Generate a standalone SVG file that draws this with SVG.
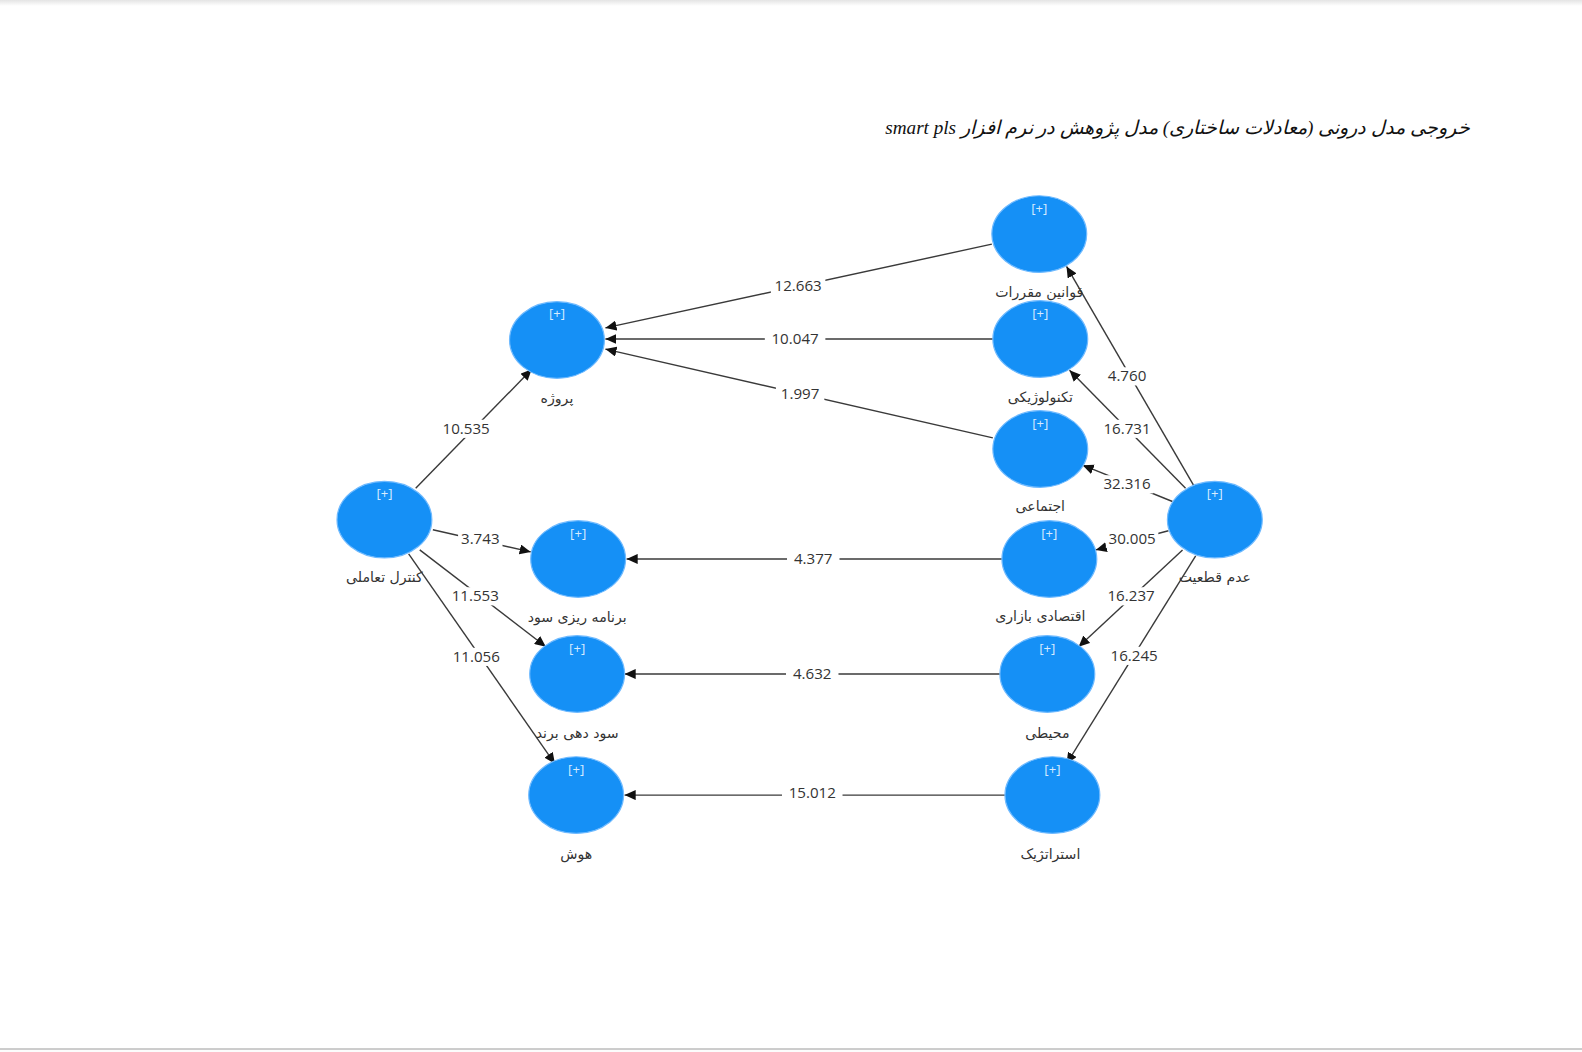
<svg xmlns="http://www.w3.org/2000/svg" width="1582" height="1052" viewBox="0 0 1582 1052">
<defs>
<linearGradient id="topshade" x1="0" y1="0" x2="0" y2="1">
<stop offset="0" stop-color="#e4e4e4"/>
<stop offset="1" stop-color="#ffffff"/>
</linearGradient>
<marker id="arr" markerUnits="userSpaceOnUse" markerWidth="12" markerHeight="10" refX="11" refY="5" orient="auto">
<path d="M0,0 L11,5 L0,10 z" fill="#111"/>
</marker>
<style>
.node ellipse{fill:#1590f6;stroke:#6fbaff;stroke-width:1.2}
.plus{font-family:"Open Sans","DejaVu Sans",sans-serif;font-size:13px;fill:#d8ecff;text-anchor:middle}
.nl{font-family:"DejaVu Sans",sans-serif;font-size:14px;fill:#333;text-anchor:middle}
.edge line{stroke:#3a3a3a;stroke-width:1.4;marker-end:url(#arr)}
.el rect{fill:#ffffff}
.el text{font-family:"Open Sans","DejaVu Sans",sans-serif;font-size:15px;fill:#333;text-anchor:middle}
.title{font-family:"Liberation Serif","DejaVu Serif",serif;font-style:italic;font-size:19px;fill:#111;text-anchor:middle}
</style>
</defs>
<rect x="0" y="0" width="1582" height="1052" fill="#ffffff"/>
<rect x="0" y="0" width="1582" height="6" fill="url(#topshade)"/>
<rect x="0" y="1049" width="1582" height="3" fill="#fcfcfc"/>
<line x1="0" y1="1049" x2="1582" y2="1049" stroke="#bdbdbd" stroke-width="1.5"/>

<g transform="scale(1.009)">
<text class="title" x="1167" y="133" direction="rtl">خروجی مدل درونی (معادلات ساختاری) مدل پژوهش در نرم افزار  smart pls</text>

<g id="connectors">
<g class="edge">
<line x1="412" y1="484" x2="527" y2="366"/>
<line x1="429" y1="525" x2="526" y2="547"/>
<line x1="416" y1="545" x2="541" y2="641"/>
<line x1="405" y1="549" x2="550" y2="757"/>
<line x1="983" y1="242" x2="600" y2="325"/>
<line x1="984" y1="336" x2="600" y2="336"/>
<line x1="984" y1="434" x2="600" y2="346"/>
<line x1="993" y1="554" x2="621" y2="554"/>
<line x1="991" y1="668" x2="619" y2="668"/>
<line x1="996" y1="788" x2="619" y2="788"/>
<line x1="1183" y1="481" x2="1057" y2="264"/>
<line x1="1175" y1="484" x2="1060" y2="367"/>
<line x1="1162" y1="497" x2="1073" y2="461"/>
<line x1="1158" y1="526" x2="1086" y2="545"/>
<line x1="1172" y1="545" x2="1069" y2="641"/>
<line x1="1185" y1="551" x2="1057" y2="757"/>
</g>
<g class="el">
<rect x="436" y="416" width="52" height="18"/><text x="462" y="430">10.535</text>
<rect x="454" y="525" width="44" height="18"/><text x="476" y="539">3.743</text>
<rect x="445" y="582" width="52" height="18"/><text x="471" y="596">11.553</text>
<rect x="446" y="642" width="52" height="18"/><text x="472" y="656">11.056</text>
<rect x="764" y="274" width="54" height="18"/><text x="791" y="288">12.663</text>
<rect x="758" y="327" width="60" height="18"/><text x="788" y="341">10.047</text>
<rect x="769" y="381" width="48" height="18"/><text x="793" y="395">1.997</text>
<rect x="780" y="545" width="52" height="18"/><text x="806" y="559">4.377</text>
<rect x="779" y="659" width="52" height="18"/><text x="805" y="673">4.632</text>
<rect x="775" y="777" width="60" height="18"/><text x="805" y="791">15.012</text>
<rect x="1094" y="364" width="46" height="18"/><text x="1117" y="378">4.760</text>
<rect x="1091" y="416" width="52" height="18"/><text x="1117" y="430">16.731</text>
<rect x="1091" y="471" width="52" height="18"/><text x="1117" y="485">32.316</text>
<rect x="1096" y="525" width="52" height="18"/><text x="1122" y="539">30.005</text>
<rect x="1095" y="582" width="52" height="18"/><text x="1121" y="596">16.237</text>
<rect x="1098" y="641" width="52" height="18"/><text x="1124" y="655">16.245</text>
</g>
</g>

<g id="node-project" class="node"><ellipse cx="552" cy="337" rx="47" ry="38"/><text class="plus" x="552" y="315">[+]</text><text class="nl" x="552" y="399">پروژه</text></g>
<g id="node-interactive-control" class="node"><ellipse cx="381" cy="515" rx="47" ry="38"/><text class="plus" x="381" y="494">[+]</text><text class="nl" x="381" y="577">کنترل تعاملی</text></g>
<g id="node-profit-planning" class="node"><ellipse cx="573" cy="554" rx="47" ry="38"/><text class="plus" x="573" y="533">[+]</text><text class="nl" x="572" y="616">برنامه ریزی سود</text></g>
<g id="node-brand-profitability" class="node"><ellipse cx="572" cy="668" rx="47" ry="38"/><text class="plus" x="572" y="647">[+]</text><text class="nl" x="572" y="731">سود دهی برند</text></g>
<g id="node-intelligence" class="node"><ellipse cx="571" cy="788" rx="47" ry="38"/><text class="plus" x="571" y="767">[+]</text><text class="nl" x="571" y="851">هوش</text></g>
<g id="node-regulations" class="node"><ellipse cx="1030" cy="232" rx="47" ry="38"/><text class="plus" x="1030" y="211">[+]</text><text class="nl" x="1030" y="294">قوانین مقررات</text></g>
<g id="node-technological" class="node"><ellipse cx="1031" cy="336" rx="47" ry="38"/><text class="plus" x="1031" y="315">[+]</text><text class="nl" x="1031" y="398">تکنولوژیکی</text></g>
<g id="node-social" class="node"><ellipse cx="1031" cy="445" rx="47" ry="38"/><text class="plus" x="1031" y="424">[+]</text><text class="nl" x="1031" y="506">اجتماعی</text></g>
<g id="node-economic-market" class="node"><ellipse cx="1040" cy="554" rx="47" ry="38"/><text class="plus" x="1040" y="533">[+]</text><text class="nl" x="1031" y="615">اقتصادی بازاری</text></g>
<g id="node-environmental" class="node"><ellipse cx="1038" cy="668" rx="47" ry="38"/><text class="plus" x="1038" y="647">[+]</text><text class="nl" x="1038" y="731">محیطی</text></g>
<g id="node-strategic" class="node"><ellipse cx="1043" cy="788" rx="47" ry="38"/><text class="plus" x="1043" y="767">[+]</text><text class="nl" x="1041" y="851">استراتژیک</text></g>
<g id="node-uncertainty" class="node"><ellipse cx="1204" cy="515" rx="47" ry="38"/><text class="plus" x="1204" y="494">[+]</text><text class="nl" x="1204" y="577">عدم قطعیت</text></g>
</g>
</svg>
